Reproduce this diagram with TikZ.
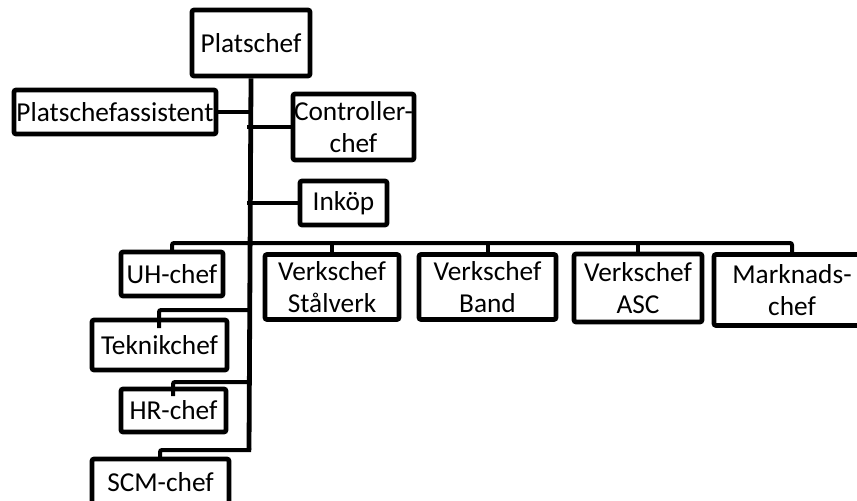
\documentclass[tikz,border=0pt]{standalone}
\usepackage{fontspec}
\setmainfont{Carlito}
\begin{document}
\begin{tikzpicture}[x=0.75pt,y=-0.75pt,
  box/.style={draw, line width=3.5pt, rounded corners=1.5pt, inner sep=0pt, align=center,
    font=\fontsize{20.5}{24}\selectfont},
  conn/.style={line width=3pt, line cap=rect},
  trunk/.style={line width=3.6pt}]
\useasboundingbox (0,0) rectangle (857,500);
\clip (0,0) rectangle (857,500);
\node[box, minimum width=88.5pt, minimum height=49.5pt] (pc) at (251,43) {Platschef};
\node[box, minimum width=151.5pt, minimum height=33pt] (pa) at (115,112) {Platschefassistent};
\node[box, minimum width=90.75pt, minimum height=49.5pt] (cc) at (353.5,127) {Controller-\\chef};
\node[box, minimum width=65.25pt, minimum height=33pt] (ik) at (343.5,203) {Inköp};
\node[box, minimum width=76.5pt, minimum height=33pt] (uh) at (172,274) {UH-chef};
\node[box, minimum width=100.5pt, minimum height=48.75pt] (vs) at (332,287) {Verkschef\\Stålverk};
\node[box, minimum width=102.75pt, minimum height=48.75pt] (vb) at (487.5,287) {Verkschef\\Band};
\node[box, minimum width=96pt, minimum height=51pt] (va) at (638,288) {Verkschef\\ASC};
\node[box, minimum width=117pt, minimum height=53.25pt] (mc) at (792,290) {Marknads-\\chef};
\node[box, minimum width=101.25pt, minimum height=37.5pt] (tc) at (159.5,345) {Teknikchef};
\node[box, minimum width=78.75pt, minimum height=32.25pt] (hr) at (173.5,410.5) {HR-chef};
\node[box, minimum width=102.75pt, minimum height=34.5pt] (sc) at (160.5,482) {SCM-chef};
\coordinate (tend) at (249,450);
\coordinate (bus) at (249,243);
% trunk
\draw[trunk] (pc.south) -- (tend);
% staff
\draw[conn] (pa.east) -- (pa.east -| tend);
\draw[conn] (cc.west) -- (cc.west -| tend);
\draw[conn] (ik.west) -- (ik.west -| tend);
% bus
\draw[conn, rounded corners=1.5pt] (uh.north) -- (uh.north |- bus) -- (mc.north |- bus) -- (mc.north);
\draw[conn] (vs.north) -- (vs.north |- bus);
\draw[conn] (vb.north) -- (vb.north |- bus);
\draw[conn] (va.north) -- (va.north |- bus);
% left branches
\draw[conn, rounded corners=1.5pt] (tend |- 0,310) -- (159,310) -- (159,326);
\draw[conn, rounded corners=1.5pt] (tend |- 0,382) -- (173,382) -- (173,394);
\draw[conn, rounded corners=1.5pt] (tend) -- (160,450) -- (sc.north -| 160,0);
\end{tikzpicture}
\end{document}
